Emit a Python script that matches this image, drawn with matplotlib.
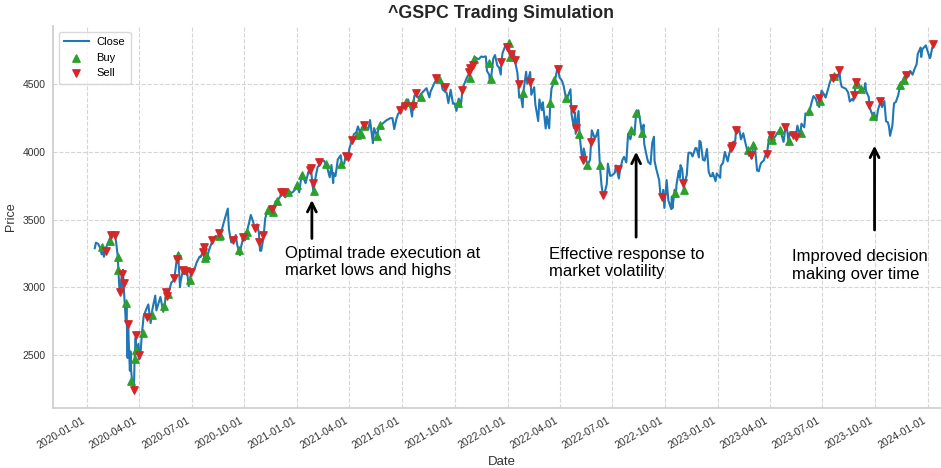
import pandas as pd
import matplotlib.pyplot as plt
import matplotlib.dates as mdates

# ^GSPC close (roughly weekly, plus the swing points)
close_dates = [
    # 2020
    "2020-01-15", "2020-01-17", "2020-01-21", "2020-01-24", "2020-01-27", "2020-01-29", "2020-01-31",
    "2020-02-04", "2020-02-07", "2020-02-12", "2020-02-14", "2020-02-19", "2020-02-21", "2020-02-24",
    "2020-02-25", "2020-02-27", "2020-02-28", "2020-03-02", "2020-03-03", "2020-03-04", "2020-03-05",
    "2020-03-09", "2020-03-10", "2020-03-12", "2020-03-13", "2020-03-16", "2020-03-17", "2020-03-18",
    "2020-03-20", "2020-03-23", "2020-03-24", "2020-03-26", "2020-03-27", "2020-03-31", "2020-04-01",
    "2020-04-03", "2020-04-06", "2020-04-09", "2020-04-14", "2020-04-17", "2020-04-21", "2020-04-24",
    "2020-04-29", "2020-05-01", "2020-05-08", "2020-05-13", "2020-05-15", "2020-05-18", "2020-05-22",
    "2020-05-27", "2020-06-01", "2020-06-05", "2020-06-08", "2020-06-11", "2020-06-12", "2020-06-16",
    "2020-06-19", "2020-06-23", "2020-06-26", "2020-06-30", "2020-07-02", "2020-07-07", "2020-07-10",
    "2020-07-15", "2020-07-17", "2020-07-22", "2020-07-24", "2020-07-28", "2020-07-31", "2020-08-05",
    "2020-08-07", "2020-08-12", "2020-08-14", "2020-08-18", "2020-08-21", "2020-08-26", "2020-08-28",
    "2020-09-02", "2020-09-04", "2020-09-08", "2020-09-10", "2020-09-11", "2020-09-16", "2020-09-18",
    "2020-09-23", "2020-09-25", "2020-09-28", "2020-10-02", "2020-10-05", "2020-10-09", "2020-10-12",
    "2020-10-16", "2020-10-19", "2020-10-23", "2020-10-26", "2020-10-28", "2020-10-30", "2020-11-03",
    "2020-11-06", "2020-11-09", "2020-11-13", "2020-11-18", "2020-11-20", "2020-11-24", "2020-11-27",
    "2020-12-02", "2020-12-04", "2020-12-09", "2020-12-11", "2020-12-16", "2020-12-18", "2020-12-21",
    "2020-12-24", "2020-12-29", "2020-12-31",
    # 2021
    "2021-01-04", "2021-01-08", "2021-01-12", "2021-01-15", "2021-01-20", "2021-01-22", "2021-01-25",
    "2021-01-27", "2021-01-29", "2021-02-02", "2021-02-05", "2021-02-10", "2021-02-12", "2021-02-16",
    "2021-02-19", "2021-02-22", "2021-02-25", "2021-02-26", "2021-03-01", "2021-03-04", "2021-03-05",
    "2021-03-08", "2021-03-12", "2021-03-17", "2021-03-19", "2021-03-23", "2021-03-26", "2021-03-30",
    "2021-04-01", "2021-04-05", "2021-04-09", "2021-04-13", "2021-04-16", "2021-04-20", "2021-04-23",
    "2021-04-26", "2021-04-30", "2021-05-04", "2021-05-07", "2021-05-12", "2021-05-14", "2021-05-19",
    "2021-05-21", "2021-05-24", "2021-05-28", "2021-06-04", "2021-06-11", "2021-06-15", "2021-06-18",
    "2021-06-22", "2021-06-25", "2021-06-28", "2021-07-02", "2021-07-06", "2021-07-09", "2021-07-12",
    "2021-07-16", "2021-07-19", "2021-07-20", "2021-07-23", "2021-07-26", "2021-07-30", "2021-08-03",
    "2021-08-06", "2021-08-13", "2021-08-18", "2021-08-20", "2021-08-27", "2021-08-30", "2021-09-02",
    "2021-09-07", "2021-09-10", "2021-09-14", "2021-09-17", "2021-09-20", "2021-09-24", "2021-09-28",
    "2021-10-01", "2021-10-04", "2021-10-08", "2021-10-12", "2021-10-14", "2021-10-15", "2021-10-22",
    "2021-10-26", "2021-10-29", "2021-11-02", "2021-11-05", "2021-11-09", "2021-11-12", "2021-11-16",
    "2021-11-19", "2021-11-24", "2021-11-26", "2021-11-30", "2021-12-01", "2021-12-03", "2021-12-07",
    "2021-12-10", "2021-12-14", "2021-12-17", "2021-12-20", "2021-12-21", "2021-12-23", "2021-12-29",
    "2021-12-31",
    # 2022
    "2022-01-03", "2022-01-05", "2022-01-07", "2022-01-12", "2022-01-14", "2022-01-18", "2022-01-21",
    "2022-01-24", "2022-01-27", "2022-01-28", "2022-02-02", "2022-02-04", "2022-02-09", "2022-02-11",
    "2022-02-16", "2022-02-18", "2022-02-23", "2022-02-25", "2022-03-01", "2022-03-03", "2022-03-08",
    "2022-03-10", "2022-03-14", "2022-03-16", "2022-03-18", "2022-03-22", "2022-03-25", "2022-03-29",
    "2022-04-01", "2022-04-05", "2022-04-08", "2022-04-12", "2022-04-14", "2022-04-20", "2022-04-22",
    "2022-04-26", "2022-04-28", "2022-04-29", "2022-05-04", "2022-05-06", "2022-05-09", "2022-05-11",
    "2022-05-13", "2022-05-18", "2022-05-20", "2022-05-24", "2022-05-27", "2022-06-01", "2022-06-03",
    "2022-06-07", "2022-06-10", "2022-06-13", "2022-06-16", "2022-06-17", "2022-06-22", "2022-06-24",
    "2022-06-28", "2022-07-01", "2022-07-06", "2022-07-08", "2022-07-13", "2022-07-15", "2022-07-19",
    "2022-07-22", "2022-07-26", "2022-07-29", "2022-08-02", "2022-08-05", "2022-08-09", "2022-08-12",
    "2022-08-16", "2022-08-19", "2022-08-22", "2022-08-25", "2022-08-26", "2022-08-31", "2022-09-02",
    "2022-09-06", "2022-09-09", "2022-09-12", "2022-09-13", "2022-09-16", "2022-09-21", "2022-09-23",
    "2022-09-26", "2022-09-28", "2022-09-30", "2022-10-04", "2022-10-07", "2022-10-12", "2022-10-13",
    "2022-10-14", "2022-10-18", "2022-10-20", "2022-10-21", "2022-10-25", "2022-10-27", "2022-10-28",
    "2022-10-31", "2022-11-03", "2022-11-04", "2022-11-08", "2022-11-10", "2022-11-11", "2022-11-15",
    "2022-11-18", "2022-11-23", "2022-11-25", "2022-11-29", "2022-11-30", "2022-12-02", "2022-12-06",
    "2022-12-09", "2022-12-13", "2022-12-16", "2022-12-19", "2022-12-22", "2022-12-23", "2022-12-28",
    "2022-12-30",
    # 2023
    "2023-01-05", "2023-01-06", "2023-01-10", "2023-01-13", "2023-01-18", "2023-01-20", "2023-01-23",
    "2023-01-25", "2023-01-27", "2023-01-31", "2023-02-02", "2023-02-03", "2023-02-07", "2023-02-10",
    "2023-02-14", "2023-02-17", "2023-02-22", "2023-02-24", "2023-02-27", "2023-03-01", "2023-03-03",
    "2023-03-06", "2023-03-10", "2023-03-13", "2023-03-15", "2023-03-17", "2023-03-22", "2023-03-24",
    "2023-03-27", "2023-03-31", "2023-04-03", "2023-04-05", "2023-04-10", "2023-04-14", "2023-04-18",
    "2023-04-21", "2023-04-25", "2023-04-28", "2023-05-01", "2023-05-04", "2023-05-05", "2023-05-09",
    "2023-05-11", "2023-05-16", "2023-05-19", "2023-05-24", "2023-05-26", "2023-05-31", "2023-06-02",
    "2023-06-07", "2023-06-09", "2023-06-13", "2023-06-16", "2023-06-20", "2023-06-23", "2023-06-26",
    "2023-06-27", "2023-06-30", "2023-07-06", "2023-07-07", "2023-07-12", "2023-07-14", "2023-07-19",
    "2023-07-21", "2023-07-26", "2023-07-27", "2023-07-31", "2023-08-02", "2023-08-04", "2023-08-09",
    "2023-08-11", "2023-08-15", "2023-08-18", "2023-08-22", "2023-08-24", "2023-08-25", "2023-08-29",
    "2023-09-01", "2023-09-06", "2023-09-08", "2023-09-12", "2023-09-14", "2023-09-15", "2023-09-20",
    "2023-09-21", "2023-09-22", "2023-09-26", "2023-09-29", "2023-10-03", "2023-10-06", "2023-10-11",
    "2023-10-13", "2023-10-17", "2023-10-20", "2023-10-23", "2023-10-25", "2023-10-27", "2023-10-31",
    "2023-11-02", "2023-11-03", "2023-11-06", "2023-11-10", "2023-11-14", "2023-11-17", "2023-11-20",
    "2023-11-24", "2023-11-28", "2023-12-01", "2023-12-05", "2023-12-08", "2023-12-12", "2023-12-14",
    "2023-12-19", "2023-12-20", "2023-12-22", "2023-12-28", "2023-12-29",
    # 2024
    "2024-01-04", "2024-01-05", "2024-01-08", "2024-01-10",
]

close_values = [
    # 2020
    3289, 3330, 3321, 3296, 3244, 3273, 3226,
    3298, 3328, 3380, 3380, 3386, 3338, 3226,
    3128, 2979, 2954, 3090, 3003, 3130, 3024,
    2747, 2882, 2481, 2711, 2386, 2529, 2398,
    2305, 2237, 2447, 2630, 2542, 2585, 2471,
    2489, 2664, 2790, 2846, 2875, 2737, 2837,
    2940, 2831, 2930, 2820, 2864, 2954, 2956,
    3036, 3056, 3194, 3232, 3002, 3041, 3125,
    3098, 3131, 3009, 3100, 3130, 3145, 3185,
    3227, 3225, 3276, 3216, 3218, 3271, 3328,
    3351, 3380, 3373, 3390, 3397, 3479, 3508,
    3581, 3427, 3332, 3339, 3341, 3386, 3320,
    3237, 3299, 3352, 3348, 3409, 3477, 3534,
    3484, 3427, 3465, 3401, 3271, 3270, 3369,
    3509, 3551, 3585, 3568, 3558, 3635, 3638,
    3669, 3699, 3673, 3664, 3701, 3709, 3695,
    3703, 3727, 3756,
    # 2021
    3701, 3825, 3801, 3768, 3852, 3842, 3855,
    3751, 3714, 3826, 3887, 3910, 3935, 3933,
    3907, 3877, 3829, 3811, 3902, 3769, 3842,
    3821, 3943, 3974, 3913, 3911, 3975, 3959,
    4020, 4078, 4129, 4142, 4186, 4135, 4180,
    4188, 4181, 4165, 4233, 4063, 4174, 4116,
    4156, 4197, 4204, 4230, 4247, 4247, 4167,
    4246, 4281, 4291, 4352, 4344, 4370, 4385,
    4327, 4259, 4323, 4412, 4422, 4395, 4423,
    4437, 4468, 4400, 4442, 4509, 4529, 4537,
    4520, 4459, 4443, 4433, 4358, 4456, 4353,
    4357, 4301, 4391, 4351, 4438, 4471, 4545,
    4575, 4605, 4631, 4698, 4685, 4683, 4701,
    4698, 4702, 4595, 4567, 4513, 4538, 4687,
    4712, 4634, 4621, 4568, 4649, 4726, 4793,
    4766,
    # 2022
    4797, 4701, 4677, 4726, 4663, 4577, 4398,
    4410, 4327, 4432, 4589, 4501, 4587, 4419,
    4475, 4349, 4226, 4385, 4306, 4364, 4171,
    4260, 4173, 4358, 4463, 4512, 4543, 4632,
    4546, 4525, 4488, 4398, 4393, 4460, 4272,
    4175, 4288, 4132, 4300, 4123, 3991, 3935,
    4024, 3924, 3901, 3942, 4158, 4101, 4109,
    4161, 3901, 3750, 3667, 3675, 3760, 3912,
    3822, 3825, 3845, 3899, 3802, 3863, 3937,
    3962, 3921, 4130, 4091, 4145, 4123, 4280,
    4305, 4229, 4138, 4199, 4058, 3955, 3924,
    3908, 4067, 4110, 3933, 3873, 3790, 3693,
    3655, 3719, 3586, 3791, 3640, 3577, 3670,
    3583, 3720, 3666, 3753, 3859, 3807, 3901,
    3872, 3720, 3771, 3828, 3956, 3993, 3992,
    3965, 4027, 4026, 3958, 4080, 4072, 3941,
    3934, 4020, 3852, 3818, 3822, 3845, 3783,
    3840,
    # 2023
    3808, 3895, 3919, 3999, 3929, 3973, 4020,
    4016, 4071, 4077, 4180, 4137, 4164, 4091,
    4136, 4079, 3991, 3970, 3982, 3951, 4046,
    4048, 3862, 3856, 3892, 3917, 3937, 3971,
    3978, 4109, 4125, 4090, 4109, 4138, 4155,
    4134, 4072, 4170, 4168, 4061, 4136, 4119,
    4131, 4110, 4192, 4115, 4206, 4180, 4282,
    4268, 4299, 4369, 4410, 4389, 4348, 4329,
    4378, 4450, 4412, 4399, 4472, 4505, 4566,
    4536, 4567, 4537, 4589, 4513, 4478, 4468,
    4464, 4438, 4370, 4388, 4376, 4406, 4498,
    4516, 4466, 4458, 4462, 4505, 4450, 4402,
    4330, 4320, 4274, 4288, 4230, 4309, 4377,
    4328, 4373, 4224, 4217, 4187, 4117, 4194,
    4318, 4358, 4366, 4415, 4496, 4514, 4547,
    4559, 4555, 4595, 4567, 4604, 4644, 4720,
    4768, 4698, 4755, 4783, 4770,
    # 2024
    4689, 4697, 4764, 4783,
]

buy_dates = [
    "2020-01-28", "2020-02-10", "2020-02-24", "2020-02-25", "2020-03-10", "2020-03-18",
    "2020-03-25", "2020-03-26", "2020-04-07", "2020-04-23", "2020-05-15", "2020-05-22",
    "2020-06-08", "2020-06-29", "2020-07-24", "2020-07-27", "2020-08-17", "2020-08-20",
    "2020-09-21", "2020-10-02", "2020-10-05", "2020-11-11", "2020-11-20", "2020-11-27",
    "2020-12-16", "2020-12-31", "2021-01-08", "2021-01-29", "2021-02-19", "2021-03-18",
    "2021-04-14", "2021-04-21", "2021-04-27", "2021-05-19", "2021-05-24", "2021-07-09",
    "2021-07-20", "2021-08-03", "2021-09-03", "2021-10-06", "2021-10-27", "2021-11-04",
    "2021-11-29", "2021-12-03", "2022-01-04", "2022-01-05", "2022-01-28", "2022-03-15",
    "2022-03-22", "2022-04-12", "2022-05-05", "2022-05-19", "2022-06-10", "2022-08-03",
    "2022-08-12", "2022-08-22", "2022-10-19", "2022-11-03", "2023-02-22", "2023-03-03",
    "2023-04-03", "2023-04-05", "2023-04-19", "2023-05-04", "2023-05-25", "2023-06-09",
    "2023-06-27", "2023-07-21", "2023-08-29", "2023-09-06", "2023-09-27", "2023-11-14",
    "2023-11-20",
]
buy_prices = [
    3300, 3345, 3228, 3128, 2885, 2310,
    2476, 2541, 2662, 2798, 2862, 2950,
    3240, 3053, 3216, 3239, 3381, 3385,
    3279, 3390, 3408, 3568, 3557, 3636,
    3705, 3756, 3830, 3710, 3907, 3913,
    4126, 4132, 4187, 4114, 4197, 4368,
    4360, 4400, 4535, 4360, 4545, 4682,
    4655, 4538, 4798, 4701, 4432, 4360,
    4530, 4397, 4130, 3903, 3903, 4158,
    4282, 4135, 3695, 3716, 4012, 4048,
    4114, 4088, 4157, 4080, 4139, 4297,
    4377, 4555, 4500, 4462, 4262, 4494,
    4526,
]

sell_dates = [
    "2020-02-03", "2020-02-12", "2020-02-19", "2020-02-28", "2020-03-02", "2020-03-05",
    "2020-03-13", "2020-03-23", "2020-03-27", "2020-04-01", "2020-04-14", "2020-05-18",
    "2020-05-19", "2020-06-01", "2020-06-05", "2020-06-16", "2020-06-22", "2020-06-30",
    "2020-07-21", "2020-07-22", "2020-08-05", "2020-08-18", "2020-09-11", "2020-09-28",
    "2020-10-19", "2020-10-27", "2020-11-03", "2020-11-18", "2020-12-04", "2020-12-09",
    "2021-01-22", "2021-01-25", "2021-01-28", "2021-02-08", "2021-03-26", "2021-03-30",
    "2021-04-05", "2021-04-26", "2021-06-28", "2021-07-06", "2021-07-20", "2021-07-26",
    "2021-08-30", "2021-09-14", "2021-10-14", "2021-10-26", "2021-10-28", "2021-11-02",
    "2021-12-21", "2021-12-30", "2022-01-06", "2022-01-13", "2022-01-20", "2022-02-08",
    "2022-03-29", "2022-04-25", "2022-04-29", "2022-05-11", "2022-05-26", "2022-06-16",
    "2022-07-12", "2022-09-26", "2022-11-02", "2023-01-23", "2023-01-25", "2023-02-02",
    "2023-02-27", "2023-03-27", "2023-04-04", "2023-04-28", "2023-05-11", "2023-05-16",
    "2023-06-26", "2023-07-19", "2023-07-31", "2023-08-25", "2023-08-29", "2023-09-21",
    "2023-10-10", "2023-11-24", "2024-01-10",
]
sell_prices = [
    3272, 3385, 3390, 2968, 3100, 3035,
    2733, 2248, 2650, 2500, 2780, 2968,
    2938, 3068, 3208, 3132, 3118, 3112,
    3262, 3296, 3350, 3398, 3350, 3372,
    3440, 3338, 3385, 3575, 3705, 3705,
    3865, 3878, 3768, 3925, 3965, 3962,
    4085, 4196, 4308, 4338, 4336, 4436,
    4540, 4478, 4456, 4590, 4614, 4638,
    4662, 4768, 4720, 4676, 4496, 4516,
    4606, 4312, 4172, 3940, 4073, 3682,
    3876, 3670, 3772, 4026, 4040, 4160,
    3978, 3985, 4122, 4185, 4126, 4112,
    4392, 4542, 4600, 4418, 4516, 4342,
    4372, 4562, 4796,
]

# annotation anchors: (text, arrow x, arrow head price, arrow tail price, text x, text top)
notes = [
    ("Optimal trade execution at\nmarket lows and highs", "2021-01-26", 3665, 3340, "2020-12-10", 3305),
    ("Effective response to\nmarket volatility", "2022-08-12", 4020, 3350, "2022-03-14", 3300),
    ("Improved decision\nmaking over time", "2023-09-30", 4065, 3403, "2023-05-10", 3282),
]

close_dates = pd.to_datetime(close_dates)
buy_dates = pd.to_datetime(buy_dates)
sell_dates = pd.to_datetime(sell_dates)

plt.rcParams['font.family'] = ['Liberation Sans', 'DejaVu Sans']

fig = plt.figure(figsize=(9.41, 4.68), dpi=100)
ax = fig.add_axes([53 / 941, 60 / 468, 897 / 941, 382 / 468])

ax.plot(close_dates, close_values, color='#1f77b4', lw=1.5, label='Close', zorder=2)
ax.scatter(buy_dates, buy_prices, marker='^', color='#2ca02c', s=28, label='Buy', zorder=3)
ax.scatter(sell_dates, sell_prices, marker='v', color='#d62728', s=28, label='Sell', zorder=3)

for text, ax_date, head, tail, tx_date, ty in notes:
    ax.annotate('', xy=(pd.Timestamp(ax_date), head), xytext=(pd.Timestamp(ax_date), tail),
                arrowprops=dict(arrowstyle='->', color='black', lw=2, mutation_scale=16))
    ax.text(pd.Timestamp(tx_date), ty, text, fontsize=12, va='top', ha='left',
            color='black', linespacing=1.2)

ax.set_xlim(pd.Timestamp("2019-11-03 12:00"), pd.Timestamp("2024-02-08"))
ax.set_ylim(2112, 4926)

ax.xaxis.set_major_locator(mdates.MonthLocator(bymonth=[1, 4, 7, 10]))
ax.xaxis.set_major_formatter(mdates.DateFormatter('%Y-%m-%d'))
ax.set_yticks([2500, 3000, 3500, 4000, 4500])
for lbl in ax.get_xticklabels():
    lbl.set_rotation(30)
    lbl.set_ha('right')
ax.tick_params(axis='both', length=0, labelsize=7.5, colors='#333333', pad=5)

ax.grid(True, linestyle='--', color='#d5d5d5', lw=0.8)
ax.set_axisbelow(True)
for side in ['top', 'right']:
    ax.spines[side].set_visible(False)
for side in ['left', 'bottom']:
    ax.spines[side].set_color('#cccccc')
    ax.spines[side].set_linewidth(1.2)

ax.set_title('^GSPC Trading Simulation', fontsize=12.8, fontweight='bold', color='#262626', pad=6)
ax.set_xlabel('Date', fontsize=9.5, color='#333333')
ax.set_ylabel('Price', fontsize=9, color='#333333')

leg = ax.legend(loc='upper left', fontsize=8, frameon=True, fancybox=True,
                borderpad=0.5, handlelength=2.2, handletextpad=0.7, labelspacing=0.5)
leg.get_frame().set_edgecolor('#d0d0d0')

fig.savefig('out.png', dpi=100)
